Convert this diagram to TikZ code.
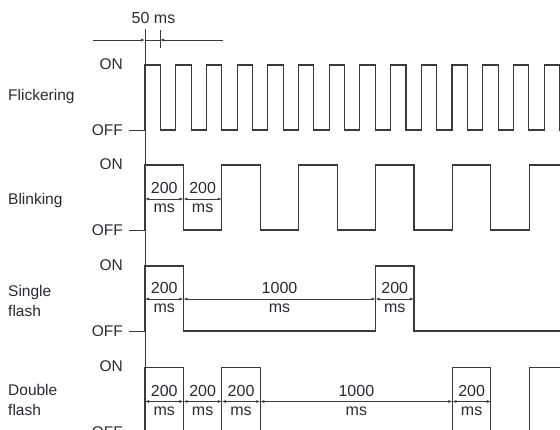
\documentclass[tikz,border=0pt]{standalone}
\usepackage{fontspec}
\setmainfont{Liberation Sans}
\usepackage{xcolor}
\usetikzlibrary{arrows.meta,positioning}
\definecolor{wvline}{HTML}{3A3A3A}
\definecolor{wvtext}{HTML}{2A2A33}
\def\fh{15.35}% 50 ms
\def\hb{38.43}% 200 ms
\tikzset{
  wave/.style    = {draw=wvline, line width=1.1pt},
  offtick/.style = {draw=wvline, line width=1pt},
  dimline/.style = {{Latex[length=4pt,width=3pt]}-{Latex[length=4pt,width=3pt]},
                     draw=wvline, line width=0.8pt},
  dimhead/.style = {-{Latex[length=4pt,width=3pt]}, draw=wvline, line width=0.8pt},
  lvltxt/.style  = {anchor=east, inner sep=0pt, font=\fontsize{15.5}{17}\selectfont\color{wvtext}},
  modetxt/.style = {anchor=west, inner sep=0pt, align=left,
                     font=\fontsize{15.5}{20}\selectfont\color{wvtext}},
  numtxt/.style  = {inner sep=0pt, font=\fontsize{16}{17}\selectfont\color{wvtext}},
}
\begin{document}
\begin{tikzpicture}[x=1pt,y=-1pt]
\useasboundingbox (0,0) rectangle (560,429);
\clip (0,0) rectangle (560,429);

% time axis and 50 ms scale
\coordinate (axtop) at (145,29);
\coordinate (axbot) at (145,445);
\draw[offtick] (axtop) -- (axbot);
\coordinate (sclL) at (93,40);
\coordinate (sclA) at (145,40);
\coordinate (sclB) at (160,40);
\coordinate (sclR) at (223,40);
\coordinate (tkt) at (160,30);
\coordinate (tkb) at (160,48);
\draw[offtick, line width=0.8pt] (tkt) -- (tkb);
\draw[offtick, line width=0.8pt] (sclA) -- (sclB);
\draw[dimhead] (sclL) -- (sclA);
\draw[dimhead] (sclR) -- (sclB);
\node[numtxt] (scl) at (153.5,18) {50 ms};

% mode names
\node[modetxt] (flk) at (8,96)  {Flickering};
\node[modetxt] (blk) at (8,200) {Blinking};
\node[modetxt] (sgl) at (8,301) {Single\\flash};
\node[modetxt] (dbl) at (8,400) {Double\\flash};

% ON / OFF levels
\foreach \nm/\yon/\yoff in {a/65/130, b/165/230, c/266/331, d/367.5/432} {
  \node[lvltxt] (on\nm)  at (123,\yon-1)  {ON};
  \node[lvltxt] (off\nm) at (123,\yoff) {OFF};
  \coordinate (tk\nm) at (129,\yoff);
  \coordinate (ax\nm) at (145,\yoff);
  \draw[offtick] (tk\nm) -- (ax\nm);
}

% flickering
\draw[wave] (145,130) -- (145,65)
  \foreach \k in {0,...,13} {
    -- ({145+(2*\k+1)*\fh},65) -- ({145+(2*\k+1)*\fh},130)
    -- ({145+(2*\k+2)*\fh},130) -- ({145+(2*\k+2)*\fh},65)
  };

% blinking
\draw[wave] (145,230) -- (145,165)
  \foreach \k in {0,...,5} {
    -- ({145+(2*\k+1)*\hb},165) -- ({145+(2*\k+1)*\hb},230)
    -- ({145+(2*\k+2)*\hb},230) -- ({145+(2*\k+2)*\hb},165)
  };

% single flash
\draw[wave] (145,331) -- (145,266) -- ({145+\hb},266) -- ({145+\hb},331)
  -- ({145+6*\hb},331) -- ({145+6*\hb},266) -- ({145+7*\hb},266)
  -- ({145+7*\hb},331) -- (575,331);

% double flash
\draw[wave] (145,432) -- (145,367.5) -- ({145+\hb},367.5) -- ({145+\hb},432)
  -- ({145+2*\hb},432) -- ({145+2*\hb},367.5) -- ({145+3*\hb},367.5)
  -- ({145+3*\hb},432) -- ({145+8*\hb},432) -- ({145+8*\hb},367.5)
  -- ({145+9*\hb},367.5) -- ({145+9*\hb},432) -- ({145+10*\hb},432)
  -- ({145+10*\hb},367.5) -- (575,367.5);

% durations
\foreach \nm/\ya/\ia/\ib/\val in {
    b1/199/0/1/200, b2/199/1/2/200,
    c1/299/0/1/200, c2/299/1/6/1000, c3/299/6/7/200,
    d1/401.5/0/1/200, d2/401.5/1/2/200, d3/401.5/2/3/200,
    d4/401.5/3/8/1000, d5/401.5/8/9/200} {
  \coordinate (s\nm) at ({145+\ia*\hb},\ya);
  \coordinate (e\nm) at ({145+\ib*\hb},\ya);
  \draw[dimline] (s\nm) -- (e\nm);
  \node[numtxt] (v\nm) at ({145+(\ia+\ib)/2*\hb},\ya-11) {\val};
  \node[numtxt] (u\nm) at ({145+(\ia+\ib)/2*\hb},\ya+9.5) {ms};
}
\end{tikzpicture}
\end{document}
